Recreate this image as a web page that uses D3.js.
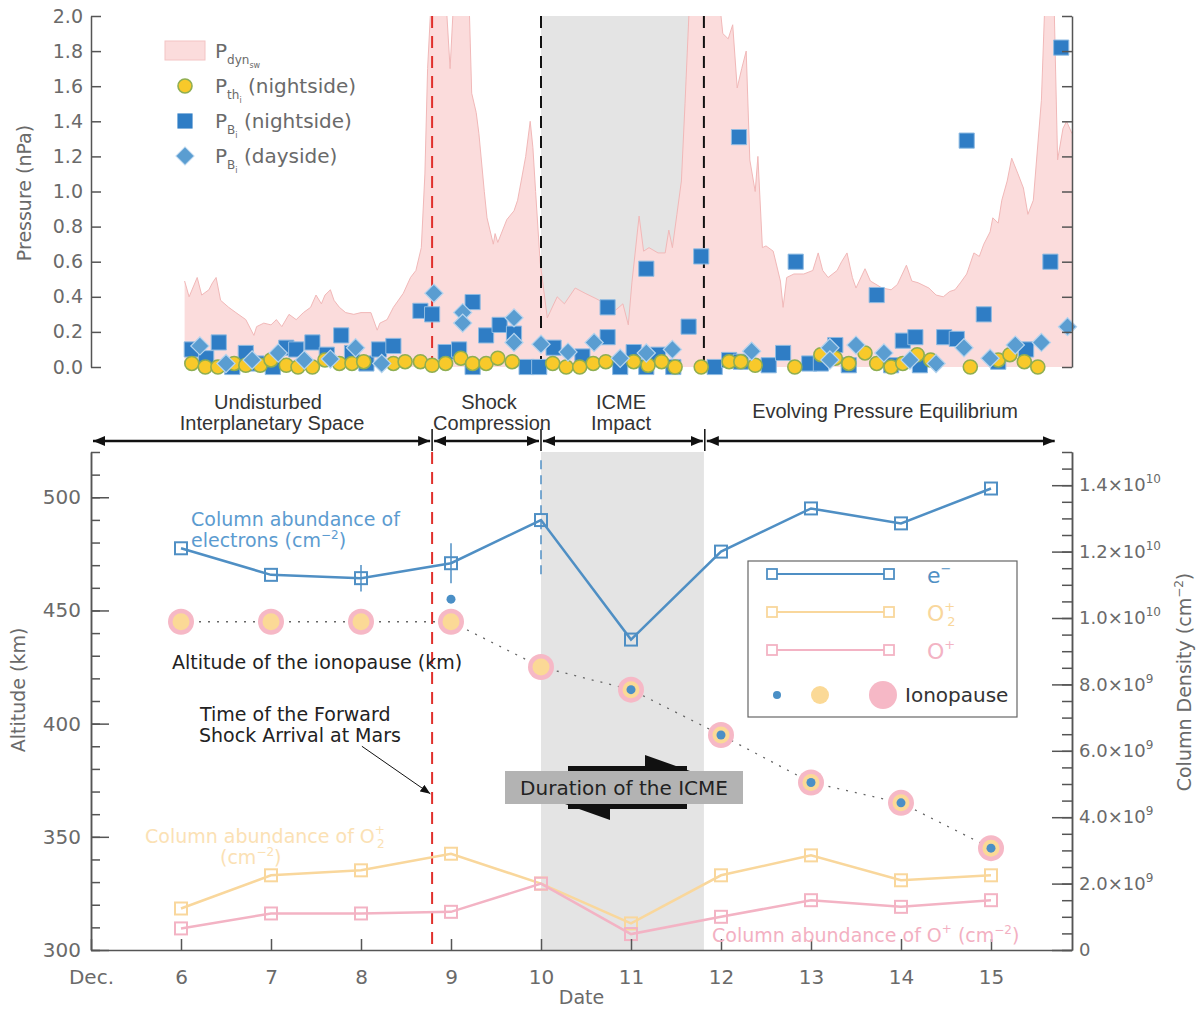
<!DOCTYPE html>
<html>
<head>
<meta charset="utf-8">
<script src="https://cdn.jsdelivr.net/npm/d3@7"></script>
<style>
  body { margin: 0; background: #fff; }
  svg { display: block; font-family: "DejaVu Sans", "Liberation Sans", sans-serif; }
</style>
</head>
<body>
<svg id="chart" width="1200" height="1011"></svg>
<script>
// ---------------- Upper panel: pressures (nPa) vs. date (December) ----------------
const pdynDate = [6.04,6.09,6.18,6.23,6.31,6.35,6.39,6.44,6.53,6.61,6.72,6.81,6.84,6.92,7.00,7.06,7.12,7.20,7.28,7.36,
  7.44,7.50,7.56,7.60,7.66,7.70,7.76,7.83,7.92,8.00,8.11,8.18,8.21,8.29,8.36,8.47,8.55,8.61,8.67,8.71,
  8.74,8.79,8.88,8.92,8.99,9.06,9.14,9.20,9.23,9.28,9.31,9.37,9.40,9.47,9.49,9.52,9.62,9.70,9.74,9.78,
  9.83,9.88,9.91,9.94,9.99,10.07,10.18,10.26,10.38,10.49,10.61,10.72,10.82,10.91,10.97,11.01,11.09,11.14,11.20,11.30,
  11.38,11.42,11.46,11.51,11.56,11.60,11.66,11.73,11.82,11.90,11.98,12.02,12.08,12.13,12.18,12.23,12.28,12.32,12.38,12.41,
  12.46,12.50,12.58,12.66,12.69,12.73,12.81,12.92,13.02,13.08,13.13,13.19,13.29,13.34,13.40,13.46,13.50,13.60,13.66,13.79,
  13.89,13.96,14.06,14.12,14.19,14.31,14.39,14.47,14.54,14.60,14.66,14.73,14.81,14.87,14.92,14.99,15.02,15.08,15.12,15.18,
  15.23,15.30,15.36,15.41,15.47,15.56,15.60,15.66,15.70,15.74,15.80,15.84,15.90];
const pdynVal = [0.49,0.40,0.51,0.41,0.44,0.48,0.51,0.38,0.34,0.31,0.27,0.18,0.23,0.25,0.24,0.27,0.23,0.30,0.27,0.31,
  0.34,0.41,0.36,0.41,0.44,0.38,0.34,0.31,0.30,0.31,0.31,0.21,0.25,0.27,0.34,0.42,0.51,0.55,0.68,1.10,
  1.70,2.20,2.40,2.30,1.70,2.40,2.50,2.10,1.56,1.45,1.33,1.00,0.85,0.70,0.76,0.71,0.84,0.89,0.95,1.06,
  1.20,1.40,1.25,1.00,0.60,0.28,0.40,0.36,0.45,0.42,0.39,0.36,0.32,0.36,0.24,0.48,0.86,0.66,0.68,0.65,
  0.65,0.78,0.68,0.87,1.06,1.50,2.20,2.50,2.30,2.40,2.10,1.90,1.87,1.95,1.59,1.70,1.80,1.18,1.00,1.20,
  0.68,0.69,0.66,0.49,0.34,0.51,0.53,0.53,0.55,0.65,0.55,0.51,0.55,0.60,0.65,0.51,0.45,0.56,0.49,0.45,
  0.44,0.47,0.58,0.49,0.48,0.45,0.41,0.40,0.43,0.44,0.48,0.53,0.65,0.63,0.70,0.77,0.85,0.82,0.95,1.06,
  1.19,1.10,1.02,0.87,0.95,1.52,2.10,2.40,2.10,1.18,1.36,1.40,1.33];

// ion thermal pressure, nightside
const pthDate = [6.12,6.27,6.41,6.59,6.72,6.88,7.00,7.17,7.30,7.46,7.60,7.76,7.90,8.03,8.36,8.49,8.66,8.79,8.94,9.11,
  9.24,9.39,9.52,9.68,10.13,10.28,10.43,10.58,10.72,11.03,11.19,11.34,11.49,11.78,12.09,12.22,12.38,12.82,13.11,13.27,
  13.42,13.60,13.73,13.89,14.02,14.18,14.33,14.77,15.08,15.21,15.37,15.52];
const pthVal = [0.02,0.00,0.00,0.02,0.01,0.01,0.04,0.01,0.00,0.00,0.04,0.02,0.02,0.03,0.02,0.03,0.03,0.01,0.02,0.05,
  0.02,0.02,0.05,0.03,0.02,0.00,0.00,0.02,0.03,0.03,0.01,0.03,0.00,0.00,0.03,0.03,0.01,0.00,0.07,0.05,
  0.02,0.08,0.02,0.00,0.02,0.07,0.04,0.00,0.04,0.07,0.03,0.00];

// ion magnetic pressure, nightside
const pbNightDate = [6.12,6.28,6.42,6.57,6.72,6.84,7.02,7.17,7.28,7.46,7.62,7.78,7.90,8.06,8.20,8.36,8.66,8.79,8.94,9.09,
  9.24,9.24,9.39,9.54,9.70,9.84,9.98,10.14,10.46,10.74,10.74,10.88,11.03,11.17,11.17,11.30,11.47,11.64,11.78,11.93,
  12.09,12.20,12.22,12.53,12.69,12.83,12.98,13.11,13.27,13.42,13.73,13.89,14.02,14.16,14.21,14.48,14.62,14.73,14.92,15.08,
  15.39,15.66,15.78];
const pbNightVal = [0.10,0.05,0.14,0.00,0.08,0.02,0.00,0.11,0.10,0.14,0.07,0.18,0.08,0.02,0.10,0.12,0.32,0.30,0.085,0.10,
  0.00,0.37,0.18,0.24,0.19,0.00,0.00,0.11,0.06,0.34,0.17,0.00,0.085,0.56,0.00,0.07,0.00,0.23,0.63,0.00,
  0.04,1.31,0.03,0.01,0.08,0.60,0.02,0.02,0.125,0.01,0.41,0.01,0.15,0.17,0.01,0.17,0.16,1.29,0.30,0.03,
  0.10,0.60,1.82];

// ion magnetic pressure, dayside
const pbDayDate = [6.21,6.50,6.79,7.08,7.37,7.66,7.94,8.23,8.81,9.13,9.13,9.70,9.70,10.00,10.30,10.59,10.88,11.17,11.46,12.34,
  13.21,13.21,13.50,13.81,14.10,14.39,14.70,14.99,15.27,15.56,15.85];
const pbDayVal = [0.12,0.02,0.04,0.08,0.04,0.045,0.11,0.02,0.42,0.31,0.25,0.28,0.14,0.13,0.085,0.14,0.05,0.08,0.10,0.09,
  0.11,0.04,0.125,0.08,0.04,0.02,0.11,0.05,0.125,0.14,0.23];

const pressureTicks = [0, 0.2, 0.4, 0.6, 0.8, 1.0, 1.2, 1.4, 1.6, 1.8, 2.0];

// ---------------- Lower panel: daily column densities and ionopause altitude ----------------
const days = [6, 7, 8, 9, 10, 11, 12, 13, 14, 15];
const colElectron = [1.21e10, 1.13e10, 1.12e10, 1.165e10, 1.295e10, 0.935e10, 1.20e10, 1.33e10, 1.285e10, 1.39e10];
const colElectronErr = [0, 0, 0.04e10, 0.06e10, 0.18e10, 0, 0, 0, 0, 0];
const colO2plus = [1.25e9, 2.25e9, 2.4e9, 2.9e9, 2.0e9, 0.8e9, 2.25e9, 2.85e9, 2.1e9, 2.25e9];
const colOplus = [0.65e9, 1.1e9, 1.1e9, 1.15e9, 2.0e9, 0.48e9, 1.0e9, 1.5e9, 1.3e9, 1.5e9];
const ionoElectron = [null, null, null, 455, null, 415, 395, 374, 365, 345];
const ionoO2plus = [445, 445, 445, 445, 425, 415, 395, 374, 365, 345];
const ionoOplus = [445, 445, 445, 445, 425, 415, 395, 374, 365, 345];

const altitudeTicks = [300, 350, 400, 450, 500];
const columnTicks = [0, 2e9, 4e9, 6e9, 8e9, 1.0e10, 1.2e10, 1.4e10];
const dateTicks = [5, 6, 7, 8, 9, 10, 11, 12, 13, 14, 15];
const dateLabels = ["Dec.", "6", "7", "8", "9", "10", "11", "12", "13", "14", "15"];

// event times (day of December)
const shockArrival = 8.79;
const icmeStart = 10.0;
const icmeEnd = 11.81;
const phaseBounds = [5.0, 8.79, 10.0, 11.82, 15.73];

// ---------------- scales ----------------
const svg = d3.select("#chart");
const x = d3.scaleLinear().domain([5, 15.9]).range([91, 1072]);
const yP = d3.scaleLinear().domain([0, 2]).range([367, 16]);
const yAlt = d3.scaleLinear().domain([300, 520]).range([950, 452]);
const yCol = d3.scaleLinear().domain([0, 1.5e10]).range([950, 452]);

const AXIS = "#555";
const LABEL = "#6a6a6a";
const C_E = "#4f8fc4", C_O2 = "#f9d79c", C_O = "#f3b3c4";
const C_PINK = "#f6b8c6", C_YEL = "#fbd996", C_BLUE = "#4a8fc6";

// rich text with sub/superscripts: parts are strings or [string, {size, shift, dx}]
function rich(sel, xp, yp, parts) {
  const t = sel.append("text").attr("x", xp).attr("y", yp);
  let shift = 0;
  parts.forEach(p => {
    const [str, opt] = typeof p === "string" ? [p, {}] : p;
    const target = opt.shift || 0;
    const ts = t.append("tspan").text(str).attr("dy", target - shift);
    if (opt.size) ts.attr("font-size", opt.size);
    if (opt.dx) ts.attr("dx", opt.dx);
    shift = target;
  });
  return t;
}

function styleAxis(g) {
  g.selectAll(".domain").attr("stroke", AXIS).attr("stroke-width", 1.5);
  g.selectAll(".tick line").attr("stroke", AXIS).attr("stroke-width", 1.5);
  g.selectAll(".tick text").attr("fill", LABEL).attr("font-family", "DejaVu Sans, sans-serif");
}

// ================= UPPER PANEL =================
const up = svg.append("g");
svg.append("defs").append("clipPath").attr("id", "clipUp")
  .append("rect").attr("x", x(5)).attr("y", yP(2))
  .attr("width", x(15.9) - x(5)).attr("height", yP(0) - yP(2));

up.append("rect")
  .attr("x", x(icmeStart)).attr("width", x(icmeEnd) - x(icmeStart))
  .attr("y", yP(2)).attr("height", yP(0) - yP(2)).attr("fill", "#e4e4e4");

const pdyn = pdynDate.map((d, i) => ({ d, v: pdynVal[i] }));
up.append("path").datum(pdyn).attr("clip-path", "url(#clipUp)")
  .attr("fill", "#fbdcdc")
  .attr("d", d3.area().x(p => x(p.d)).y0(yP(0)).y1(p => yP(p.v)));
up.append("path").datum(pdyn).attr("clip-path", "url(#clipUp)")
  .attr("fill", "none").attr("stroke", "#f1b8b8").attr("stroke-width", 1)
  .attr("d", d3.line().x(p => x(p.d)).y(p => yP(p.v)));

// event markers
[[shockArrival, "#e0302c"], [icmeStart, "#111"], [icmeEnd, "#111"]].forEach(([d, c]) => {
  up.append("line").attr("x1", x(d)).attr("x2", x(d)).attr("y1", yP(2)).attr("y2", yP(0))
    .attr("stroke", c).attr("stroke-width", 2).attr("stroke-dasharray", "12,8");
});

// scatter: squares, circles, diamonds
const sq = d3.symbol().type(d3.symbolSquare).size(230);
up.append("g").selectAll("path").data(pbNightDate.map((d, i) => ({ d, v: pbNightVal[i] })))
  .join("path").attr("d", sq)
  .attr("transform", p => `translate(${x(p.d)},${yP(p.v)})`)
  .attr("fill", "#2f7dc5").attr("stroke", "#8fbbe2").attr("stroke-width", 1);
up.append("g").selectAll("circle").data(pthDate.map((d, i) => ({ d, v: pthVal[i] })))
  .join("circle").attr("cx", p => x(p.d)).attr("cy", p => yP(p.v)).attr("r", 7)
  .attr("fill", "#f8c92a").attr("stroke", "#8fae52").attr("stroke-width", 1.6);
const dia = d3.symbol().type(d3.symbolSquare).size(165);
up.append("g").selectAll("path").data(pbDayDate.map((d, i) => ({ d, v: pbDayVal[i] })))
  .join("path").attr("d", dia)
  .attr("transform", p => `translate(${x(p.d)},${yP(p.v)}) rotate(45)`)
  .attr("fill", "#5a9dd1").attr("stroke", "#b6d4ee").attr("stroke-width", 1.2);

// axes
const upLeft = up.append("g").attr("transform", `translate(${x(5)},0)`)
  .call(d3.axisLeft(yP).tickValues(pressureTicks).tickFormat(d3.format(".1f"))
    .tickSize(-10).tickSizeOuter(0).tickPadding(8));
styleAxis(upLeft);
upLeft.selectAll(".tick text").attr("font-size", 19);
const upRight = up.append("g").attr("transform", `translate(${x(15.9)},0)`)
  .call(d3.axisRight(yP).tickValues(pressureTicks).tickFormat("").tickSize(-10).tickSizeOuter(0));
styleAxis(upRight);

up.append("text").attr("transform", "translate(31,193) rotate(-90)")
  .attr("text-anchor", "middle").attr("font-size", 19).attr("fill", LABEL)
  .text("Pressure (nPa)");

// legend of upper panel
const lg = up.append("g").attr("fill", LABEL).attr("font-size", 20);
lg.append("rect").attr("x", 165).attr("y", 41).attr("width", 40).attr("height", 19)
  .attr("fill", "#fbdcdc").attr("stroke", "#f3c4c4");
lg.append("circle").attr("cx", 185).attr("cy", 86).attr("r", 7)
  .attr("fill", "#f8c92a").attr("stroke", "#8fae52").attr("stroke-width", 1.6);
lg.append("path").attr("d", sq).attr("transform", "translate(185,121)").attr("fill", "#2f7dc5");
lg.append("path").attr("d", dia).attr("transform", "translate(185,156) rotate(45)")
  .attr("fill", "#5a9dd1").attr("stroke", "#b6d4ee");
rich(lg, 215, 58, ["P", ["dyn", { size: 12, shift: 6 }], ["sw", { size: 8, shift: 10 }]]);
rich(lg, 215, 93, ["P", ["th", { size: 12, shift: 6 }], ["i", { size: 8, shift: 10 }], [" (nightside)", { shift: 0 }]]);
rich(lg, 215, 128, ["P", ["B", { size: 12, shift: 6 }], ["i", { size: 8, shift: 10 }], [" (nightside)", { shift: 0 }]]);
rich(lg, 215, 163, ["P", ["B", { size: 12, shift: 6 }], ["i", { size: 8, shift: 10 }], [" (dayside)", { shift: 0 }]]);

// ================= PHASE ANNOTATIONS =================
const ph = svg.append("g");
const defs = svg.select("defs");
const mk = (id, path) => defs.append("marker").attr("id", id).attr("viewBox", "0 0 12 10")
  .attr("refX", 12).attr("refY", 5).attr("markerWidth", 12).attr("markerHeight", 10)
  .attr("markerUnits", "userSpaceOnUse").attr("orient", "auto-start-reverse")
  .append("path").attr("d", path).attr("fill", "#111");
mk("ah", "M0,0 L12,5 L0,10 Z");
const arrowY = 441;
for (let i = 0; i < phaseBounds.length - 1; i++) {
  ph.append("line").attr("x1", x(phaseBounds[i]) + 2).attr("x2", x(phaseBounds[i + 1]) - 2)
    .attr("y1", arrowY).attr("y2", arrowY).attr("stroke", "#111").attr("stroke-width", 2.5)
    .attr("marker-start", "url(#ah)").attr("marker-end", "url(#ah)");
}
[shockArrival, icmeStart, phaseBounds[3]].forEach(d => {
  ph.append("line").attr("x1", x(d)).attr("x2", x(d)).attr("y1", 429).attr("y2", 451)
    .attr("stroke", "#111").attr("stroke-width", 1.5);
});
const phText = ph.append("g").attr("font-family", "Liberation Sans, Arial, sans-serif")
  .attr("font-size", 20).attr("fill", "#333").attr("text-anchor", "middle");
[["Undisturbed", 268, 409], ["Interplanetary Space", 272, 430], ["Shock", 489, 409], ["Compression", 492, 430],
 ["ICME", 621, 409], ["Impact", 621, 430], ["Evolving Pressure Equilibrium", 885, 418]]
  .forEach(([t, tx, ty]) => phText.append("text").attr("x", tx).attr("y", ty).text(t));

// ================= LOWER PANEL =================
const lo = svg.append("g");
lo.append("rect").attr("x", x(icmeStart)).attr("width", x(icmeEnd) - x(icmeStart))
  .attr("y", yAlt(520)).attr("height", yAlt(300) - yAlt(520)).attr("fill", "#e4e4e4");
lo.append("line").attr("x1", x(shockArrival)).attr("x2", x(shockArrival))
  .attr("y1", yAlt(520)).attr("y2", yAlt(300))
  .attr("stroke", "#e0302c").attr("stroke-width", 2).attr("stroke-dasharray", "12,8");

// electron column error bars
lo.append("g").selectAll("line").data(days.map((d, i) => ({ d, v: colElectron[i], e: colElectronErr[i] })).filter(p => p.e > 0))
  .join("line").attr("x1", p => x(p.d)).attr("x2", p => x(p.d))
  .attr("y1", p => yCol(p.v + p.e)).attr("y2", p => yCol(p.v - p.e))
  .attr("stroke", C_E).attr("stroke-width", 1.5)
  .attr("stroke-dasharray", p => p.e > 1e9 ? "9,6" : null);

// ionopause altitude
const iono = days.map((d, i) => ({ d, o: ionoOplus[i], o2: ionoO2plus[i], e: ionoElectron[i] }));
lo.append("path").datum(iono).attr("fill", "none").attr("stroke", "#666").attr("stroke-width", 1.3)
  .attr("stroke-dasharray", "2,7")
  .attr("d", d3.line().x(p => x(p.d)).y(p => yAlt(p.o)));
lo.append("g").selectAll("circle").data(iono).join("circle")
  .attr("cx", p => x(p.d)).attr("cy", p => yAlt(p.o)).attr("r", 13).attr("fill", C_PINK);
lo.append("g").selectAll("circle").data(iono).join("circle")
  .attr("cx", p => x(p.d)).attr("cy", p => yAlt(p.o2)).attr("r", 8.5).attr("fill", C_YEL);
lo.append("g").selectAll("circle").data(iono.filter(p => p.e !== null)).join("circle")
  .attr("cx", p => x(p.d)).attr("cy", p => yAlt(p.e)).attr("r", 4.5).attr("fill", C_BLUE);

// column density series
function series(vals, color) {
  const pts = days.map((d, i) => ({ d, v: vals[i] }));
  lo.append("path").datum(pts).attr("fill", "none").attr("stroke", color).attr("stroke-width", 2.5)
    .attr("d", d3.line().x(p => x(p.d)).y(p => yCol(p.v)));
  lo.append("g").selectAll("rect").data(pts).join("rect")
    .attr("x", p => x(p.d) - 6).attr("y", p => yCol(p.v) - 6).attr("width", 12).attr("height", 12)
    .attr("fill", "none").attr("stroke", color).attr("stroke-width", 2);
}
series(colO2plus, C_O2);
series(colOplus, C_O);
series(colElectron, C_E);

// axes
const loLeft = lo.append("g").attr("transform", `translate(${x(5)},0)`)
  .call(d3.axisLeft(yAlt).tickValues(altitudeTicks).tickSize(-18).tickSizeOuter(0).tickPadding(10));
styleAxis(loLeft);
loLeft.selectAll(".tick text").attr("font-size", 20);
const loLeftMinor = lo.append("g").attr("transform", `translate(${x(5)},0)`)
  .call(d3.axisLeft(yAlt).tickValues(d3.range(300, 521, 10)).tickFormat("").tickSize(-9).tickSizeOuter(0));
styleAxis(loLeftMinor);

const loRight = lo.append("g").attr("transform", `translate(${x(15.9)},0)`)
  .call(d3.axisRight(yCol).tickValues(columnTicks).tickSize(-20).tickSizeOuter(0).tickPadding(7));
styleAxis(loRight);
loRight.selectAll(".tick text").attr("font-size", 18).each(function (v) {
  const t = d3.select(this).text(null);
  if (v === 0) { t.append("tspan").text("0"); return; }
  const ex = Math.floor(Math.log10(v) + 1e-9);
  const man = (v / Math.pow(10, ex)).toFixed(1);
  t.append("tspan").text(man + "×10");
  t.append("tspan").text(ex).attr("font-size", 12).attr("dy", -8);
});
const loRightMinor = lo.append("g").attr("transform", `translate(${x(15.9)},0)`)
  .call(d3.axisRight(yCol).tickValues(d3.range(0, 1.5e10 + 1, 5e8)).tickFormat("").tickSize(-10).tickSizeOuter(0));
styleAxis(loRightMinor);

const loBottom = lo.append("g").attr("transform", `translate(0,${yAlt(300)})`)
  .call(d3.axisBottom(x).tickValues(dateTicks).tickFormat((d, i) => dateLabels[i])
    .tickSize(-11).tickSizeOuter(0).tickPadding(20));
styleAxis(loBottom);
loBottom.selectAll(".tick text").attr("font-size", 20);

lo.append("text").attr("x", x(10.45)).attr("y", 1004).attr("text-anchor", "middle")
  .attr("font-size", 19).attr("fill", LABEL).text("Date");
lo.append("text").attr("transform", "translate(25,690) rotate(-90)").attr("text-anchor", "middle")
  .attr("font-size", 19).attr("fill", LABEL).text("Altitude (km)");
rich(lo.append("g").attr("transform", "translate(1191,682) rotate(-90)").attr("text-anchor", "middle")
  .attr("font-size", 19).attr("fill", LABEL), 0, 0,
  ["Column Density (cm", ["−2", { size: 12, shift: -8 }], [")", { shift: 0 }]]);

// in-plot annotations
const ann = lo.append("g").attr("font-size", 19);
rich(ann.append("g").attr("fill", "#5b9bd0"), 191, 526, ["Column abundance of"]);
rich(ann.append("g").attr("fill", "#5b9bd0"), 191, 547, ["electrons (cm", ["−2", { size: 12, shift: -8 }], [")", { shift: 0 }]]);
ann.append("text").attr("x", 172).attr("y", 669).attr("fill", "#222").text("Altitude of the ionopause (km)");
ann.append("text").attr("x", 200).attr("y", 721).attr("fill", "#222").text("Time of the Forward");
ann.append("text").attr("x", 199).attr("y", 742).attr("fill", "#222").text("Shock Arrival at Mars");
rich(ann.append("g").attr("fill", "#fbe1b4"), 145, 843,
  ["Column abundance of O", ["+", { size: 12, shift: -9 }], ["2", { size: 12, shift: 5, dx: -8 }]]);
rich(ann.append("g").attr("fill", "#fbe1b4"), 220, 864, ["(cm", ["−2", { size: 12, shift: -8 }], [")", { shift: 0 }]]);
rich(ann.append("g").attr("fill", "#f3b0c2"), 712, 942,
  ["Column abundance of O", ["+", { size: 12, shift: -9 }], [" (cm", { shift: 0 }], ["−2", { size: 12, shift: -8 }], [")", { shift: 0 }]]);

// arrow to the shock arrival time
defs.append("marker").attr("id", "thin").attr("viewBox", "0 0 10 8").attr("refX", 10).attr("refY", 4)
  .attr("markerWidth", 10).attr("markerHeight", 8).attr("markerUnits", "userSpaceOnUse").attr("orient", "auto")
  .append("path").attr("d", "M0,0 L10,4 L0,8 Z").attr("fill", "#111");
lo.append("line").attr("x1", x(8.01)).attr("y1", yAlt(390)).attr("x2", x(8.77)).attr("y2", yAlt(369))
  .attr("stroke", "#111").attr("stroke-width", 1).attr("marker-end", "url(#thin)");

// ICME duration label with opposing half arrows
const dur = lo.append("g");
dur.append("rect").attr("x", 568).attr("y", 766).attr("width", 119).attr("height", 5).attr("fill", "#111");
dur.append("path").attr("d", "M645,755 L690,771 L645,771 Z").attr("fill", "#111");
dur.append("rect").attr("x", 568).attr("y", 804).attr("width", 119).attr("height", 5).attr("fill", "#111");
dur.append("path").attr("d", "M565,804 L610,820 L610,804 Z").attr("fill", "#111");
dur.append("rect").attr("x", 505).attr("y", 771).attr("width", 238).attr("height", 33).attr("fill", "#b3b3b3");
dur.append("text").attr("x", 624).attr("y", 795).attr("text-anchor", "middle").attr("font-size", 20)
  .attr("fill", "#222").text("Duration of the ICME");

// legend of lower panel
const lgb = lo.append("g");
lgb.append("rect").attr("x", 748).attr("y", 561).attr("width", 269).attr("height", 156)
  .attr("fill", "#fff").attr("stroke", "#666").attr("stroke-width", 1.2);
[[C_E, 574], [C_O2, 612], [C_O, 650]].forEach(([c, ly]) => {
  lgb.append("line").attr("x1", 772).attr("x2", 889).attr("y1", ly).attr("y2", ly).attr("stroke", c).attr("stroke-width", 1.8);
  [772, 889].forEach(lx => lgb.append("rect").attr("x", lx - 5).attr("y", ly - 5).attr("width", 10).attr("height", 10)
    .attr("fill", "#fff").attr("stroke", c).attr("stroke-width", 1.8));
});
rich(lgb.append("g").attr("fill", C_E).attr("font-size", 22), 927, 583, ["e", ["−", { size: 13, shift: -10 }]]);
rich(lgb.append("g").attr("fill", C_O2).attr("font-size", 22), 927, 621, ["O", ["+", { size: 13, shift: -10 }], ["2", { size: 13, shift: 5, dx: -8 }]]);
rich(lgb.append("g").attr("fill", C_O).attr("font-size", 22), 927, 659, ["O", ["+", { size: 13, shift: -10 }]]);
lgb.append("circle").attr("cx", 777).attr("cy", 695).attr("r", 4).attr("fill", C_BLUE);
lgb.append("circle").attr("cx", 820).attr("cy", 695).attr("r", 9).attr("fill", C_YEL);
lgb.append("circle").attr("cx", 883).attr("cy", 695).attr("r", 14).attr("fill", C_PINK);
lgb.append("text").attr("x", 905).attr("y", 702).attr("font-size", 20).attr("fill", "#333").text("Ionopause");
</script>
</body>
</html>
